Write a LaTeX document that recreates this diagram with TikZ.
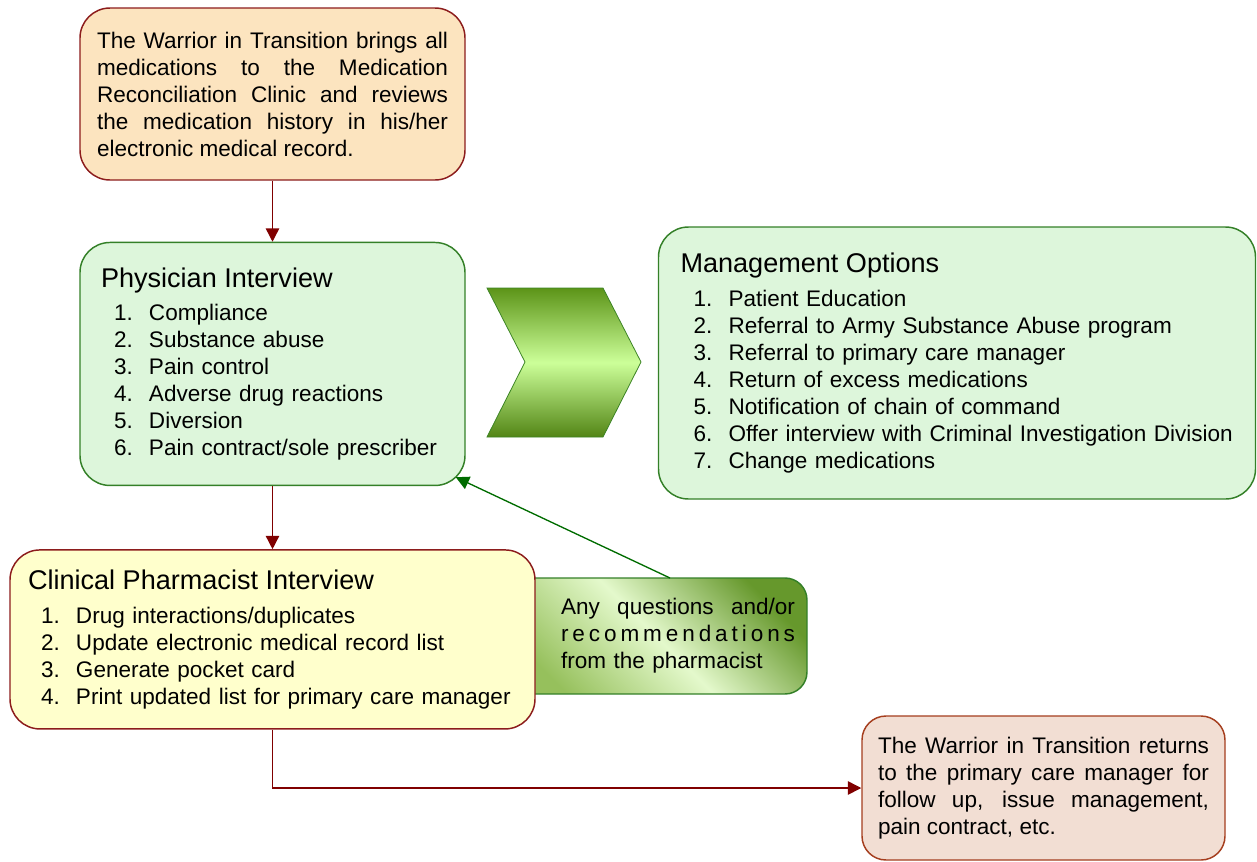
\documentclass[tikz,border=0pt]{standalone}
\usepackage{fontspec}
\setmainfont{Liberation Sans}
\usetikzlibrary{positioning,arrows.meta}

\definecolor{peach}{RGB}{252,228,191}
\definecolor{lemon}{RGB}{255,255,204}
\definecolor{mint}{RGB}{221,246,219}
\definecolor{blush}{RGB}{242,222,211}
\definecolor{linered}{RGB}{140,28,28}
\definecolor{linebrown}{RGB}{165,62,30}
\definecolor{linegreen}{RGB}{52,128,40}
\definecolor{arrowred}{RGB}{128,0,0}
\definecolor{arrowgreen}{RGB}{0,108,0}
\definecolor{chevdark}{RGB}{92,148,24}
\definecolor{chevlight}{RGB}{204,255,153}
\definecolor{qdark}{RGB}{102,152,44}
\definecolor{qlight}{RGB}{228,249,204}
\definecolor{qmid}{RGB}{150,192,92}

\newcommand{\entry}[2]{\hspace*{9.75pt}\makebox[26.25pt][l]{#1}#2}
\newcommand{\boxtitle}[1]{{\fontsize{20.3}{24}\selectfont #1}}

\begin{document}
\begin{tikzpicture}[x=0.75pt,y=-0.75pt]
		% Define styles
		\tikzstyle{box} = [rectangle, draw, line width=1.1pt, rounded corners=22.5pt,
		inner ysep=0pt, font=\fontsize{16.9}{20.25}\selectfont]
		\tikzstyle{redbox} = [box, draw=linered]
		\tikzstyle{greenbox} = [box, draw=linegreen, fill=mint, align=left]
		\tikzstyle{redarrow} = [line width=1.1pt, draw=arrowred, -{Triangle[length=10pt,width=10pt,fill=arrowred]}]
		\tikzstyle{greenarrow} = [line width=1pt, draw=arrowgreen, -{Triangle[length=10pt,width=10pt,fill=arrowgreen]}]
		
		\useasboundingbox (0,0) rectangle (1257,861);
		
		% Place nodes
		\node [redbox, fill=peach, minimum width=288.75pt, minimum height=129pt,
		inner xsep=12.75pt, text width=263.25pt, align=justify] (warrior) at (272.5,94)
		{The Warrior in Transition brings all\linebreak medications to the Medication\linebreak
		Reconciliation Clinic and reviews\linebreak the medication history in his/her\linebreak
		electronic medical record.};
		\node [greenbox, minimum width=288.75pt, minimum height=182.25pt, inner xsep=15.75pt,
		text width=257.25pt, below=45.75pt of warrior] (physician)
		{\boxtitle{Physician Interview}\\[4.9pt]
		\entry{1.}{Compliance}\\
		\entry{2.}{Substance abuse}\\
		\entry{3.}{Pain control}\\
		\entry{4.}{Adverse drug reactions}\\
		\entry{5.}{Diversion}\\
		\entry{6.}{Pain contract/sole prescriber}};
		\node [greenbox, minimum width=447.75pt, minimum height=204pt, inner xsep=16.5pt,
		text width=414.75pt] (options) at (957,363)
		{\boxtitle{Management Options}\\[4.9pt]
		\entry{1.}{Patient Education}\\
		\entry{2.}{Referral to Army Substance Abuse program}\\
		\entry{3.}{Referral to primary care manager}\\
		\entry{4.}{Return of excess medications}\\
		\entry{5.}{Notification of chain of command}\\
		\entry{6.}{Offer interview with Criminal Investigation Division}\\
		\entry{7.}{Change medications}};
		\node [box, draw=linegreen, rounded corners=16.5pt, top color=qdark, bottom color=qmid,
		middle color=qlight, shading angle=-45, minimum width=226.5pt, minimum height=87pt,
		inner xsep=4.5pt, text width=217.5pt, align=left] (questions) at (656,636)
		{\hspace*{37.5pt}\makebox[175.5pt]{Any\hfill questions\hfill and/or}\\
		\hspace*{37.5pt}\makebox[175.5pt]{r\hfill e\hfill c\hfill o\hfill m\hfill m\hfill e\hfill n\hfill d\hfill a\hfill t\hfill i\hfill o\hfill n\hfill s}\\
		\hspace*{37.5pt}from the pharmacist};
		\node [redbox, fill=lemon, minimum width=393.75pt, minimum height=134.25pt, inner xsep=13.5pt,
		text width=366.75pt, align=left, below=47.25pt of physician] (pharmacist)
		{\boxtitle{Clinical Pharmacist Interview}\\[4.9pt]
		\entry{1.}{Drug interactions/duplicates}\\
		\entry{2.}{Update electronic medical record list}\\
		\entry{3.}{Generate pocket card}\\
		\entry{4.}{Print updated list for primary care manager}};
		\node [box, draw=linebrown, fill=blush, rounded corners=18pt, minimum width=272.25pt,
		minimum height=108pt, inner xsep=12pt, text width=248.25pt, align=justify] (returns) at (1043.5,788)
		{The Warrior in Transition returns\linebreak to the primary care manager for\linebreak
		follow up, issue management,\linebreak pain contract, etc.};
		\coordinate (qtop) at (670,578);
		
		% Chevron between the interviews and the options
		\shade [top color=chevdark, bottom color=chevdark!90!black, middle color=chevlight]
		(487,288) -- (603,288) -- (641,362) -- (603,437) -- (487,437) -- (525,362) -- cycle;
		\draw [linegreen!80!chevdark, line width=0.6pt]
		(487,288) -- (603,288) -- (641,362) -- (603,437) -- (487,437) -- (525,362) -- cycle;
		
		% Draw arrows
		\draw [redarrow] (warrior) -- (physician);
		\draw [redarrow] (physician) -- (pharmacist);
		\draw [redarrow] (pharmacist.south) |- (returns.west);
		\draw [greenarrow] (qtop) -- ([shift={(-10,-9)}]physician.south east);
	\end{tikzpicture}
\end{document}
